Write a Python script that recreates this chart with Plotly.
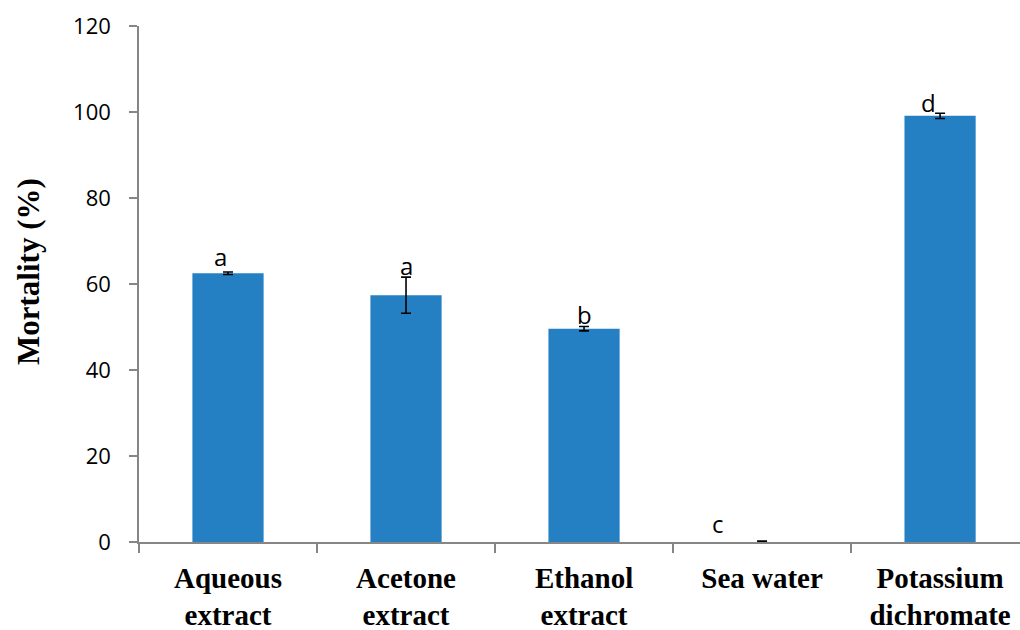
import plotly.graph_objects as go

# Mortality by treatment, mean with error
categories = ["Aqueous<br>extract", "Acetone<br>extract", "Ethanol<br>extract",
              "Sea water", "Potassium<br>dichromate"]
mortality = [62.5, 57.4, 49.6, 0.0, 99.1]
errors = [0.3, 4.2, 0.5, 0.2, 0.6]
letters = ["a", "a", "b", "c", "d"]
y_ticks = [0, 20, 40, 60, 80, 100, 120]

bar_color = "#2580C3"
axis_color = "#868686"

fig = go.Figure()
fig.add_trace(go.Bar(
    x=categories,
    y=mortality,
    width=0.4,
    marker=dict(color=bar_color, line=dict(width=0)),
    error_y=dict(type="data", array=errors, visible=True,
                 color="black", thickness=1.6, width=5),
    showlegend=False,
))

# Significance letters above each bar
letter_dx = [-0.045, 0.0, 0.0, -0.247, -0.067]
letter_dy = [3.5, 2.8, 2.7, 4.2, 2.6]
for i, (v, e, t) in enumerate(zip(mortality, errors, letters)):
    fig.add_annotation(
        x=i + letter_dx[i], y=v + e + letter_dy[i], text=t,
        showarrow=False, yanchor="middle", xref="x", yref="y",
        font=dict(family="Open Sans, Arial", size=24, color="black"),
    )

# Y-axis title
fig.add_annotation(
    x=-111 / 881, xref="paper", xanchor="center", y=0.5, yref="paper",
    yshift=12, text="<b>Mortality (%)</b>", textangle=-90, showarrow=False,
    font=dict(family="Liberation Serif, Times New Roman", size=31,
              color="black"),
)

fig.update_layout(
    width=1020, height=630,
    margin=dict(l=139, r=0, t=26, b=88, autoexpand=False),
    plot_bgcolor="white", paper_bgcolor="white",
    xaxis=dict(
        type="category",
        range=[-0.5, 4.449],
        automargin=False,
        showline=True, linecolor=axis_color, linewidth=1.5,
        ticks="outside", tickson="boundaries", ticklen=9,
        tickcolor=axis_color, tickwidth=1.5,
        showgrid=False, zeroline=False,
        ticklabelstandoff=9,
        tickfont=dict(family="Liberation Serif, Times New Roman", size=29,
                      color="black", weight="bold"),
    ),
    yaxis=dict(
        range=[0, 120],
        tickvals=y_ticks,
        automargin=False,
        showline=True, linecolor=axis_color, linewidth=1.5,
        ticks="outside", ticklen=8, tickcolor=axis_color, tickwidth=1.5,
        showgrid=False, zeroline=False,
        ticklabelstandoff=14,
        tickfont=dict(family="Open Sans, Arial", size=22, color="black"),
    ),
)

fig.write_html("out.html")
